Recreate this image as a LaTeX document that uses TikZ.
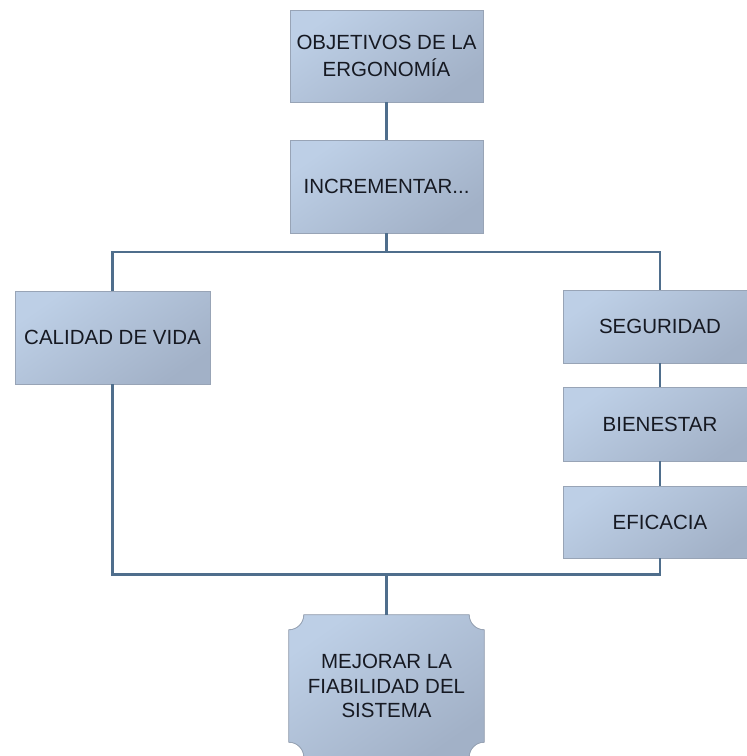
\documentclass[tikz,border=0pt]{standalone}
\usepackage{fontspec}
\setmainfont{Liberation Sans}
\usepackage{tikz}
\usetikzlibrary{shapes,arrows,backgrounds,positioning}

\definecolor{boxlight}{HTML}{BDCFE6}
\definecolor{boxdark}{HTML}{A2B1C7}
\definecolor{boxline}{HTML}{98A4B6}
\definecolor{linkblue}{HTML}{4F6E8C}
\definecolor{textdark}{HTML}{161922}

\begin{document}
\begin{tikzpicture}[x=1pt, y=1pt]
			\tikzstyle{Box}		= [rectangle, draw=boxline, line width=0.8pt, top color=boxlight, bottom color=boxdark, shading angle=35, minimum width=193pt, inner sep=0pt, align=center, text=textdark, font=\fontsize{20.5}{26.5}\selectfont]
			\tikzstyle{Plaque}	= [rectangle, minimum width=195pt, minimum height=142pt, inner sep=0pt, align=center, text=textdark, font=\fontsize{20.5}{24.5}\selectfont]
			\tikzstyle{Link}	= [line width=2.9pt, linkblue]
			
			\useasboundingbox (0,0) rectangle (747,-756);
			
			\node (obj) at (386.5, -56) [Box, minimum height=92pt] {OBJETIVOS DE LA\\ERGONOMÍA};
			\node (incr) at (386.5, -186.5) [Box, minimum height=93pt] {INCREMENTAR...};
			\node (calidad) at (112.5, -337.5) [Box, minimum width=195pt, minimum height=93pt] {CALIDAD DE VIDA};
			\node (seg) at (660, -326.5) [Box, minimum height=73pt] {SEGURIDAD};
			\node (bien) at (660, -424) [Box, minimum height=74pt] {BIENESTAR};
			\node (efic) at (660, -522) [Box, minimum height=72pt] {EFICACIA};
			
			\coordinate (split) at (386.5, -252);
			\coordinate (join) at (386.5, -574.5);
			
			% plaque with hollow corners
			\begin{scope}[on background layer]
				\node (fiab) at (386.5, -686) [Plaque] {};
				\fill [top color=boxlight, bottom color=boxdark, shading angle=35, draw=boxline, line width=0.8pt]
					([xshift=15pt]fiab.north west) -- ([xshift=-15pt]fiab.north east)
					arc[start angle=180, end angle=270, radius=15pt] -- ([yshift=15pt]fiab.south east)
					arc[start angle=90, end angle=180, radius=15pt] -- ([xshift=15pt]fiab.south west)
					arc[start angle=0, end angle=90, radius=15pt] -- ([yshift=-15pt]fiab.north west)
					arc[start angle=-90, end angle=0, radius=15pt] -- cycle;
			\end{scope}
			\node at (fiab) [Plaque] {MEJORAR LA\\FIABILIDAD DEL\\SISTEMA};
			
			\draw [Link] (obj) to (incr);
			\draw [Link] (incr) to (split);
			\draw [Link] (calidad.north) |- (split) -| (seg.north);
			\draw [Link] (seg) to (bien);
			\draw [Link] (bien) to (efic);
			\draw [Link] (calidad.south) |- (join) -| (efic.south);
			\draw [Link] (join) to (fiab.north);
		\end{tikzpicture}
\end{document}
